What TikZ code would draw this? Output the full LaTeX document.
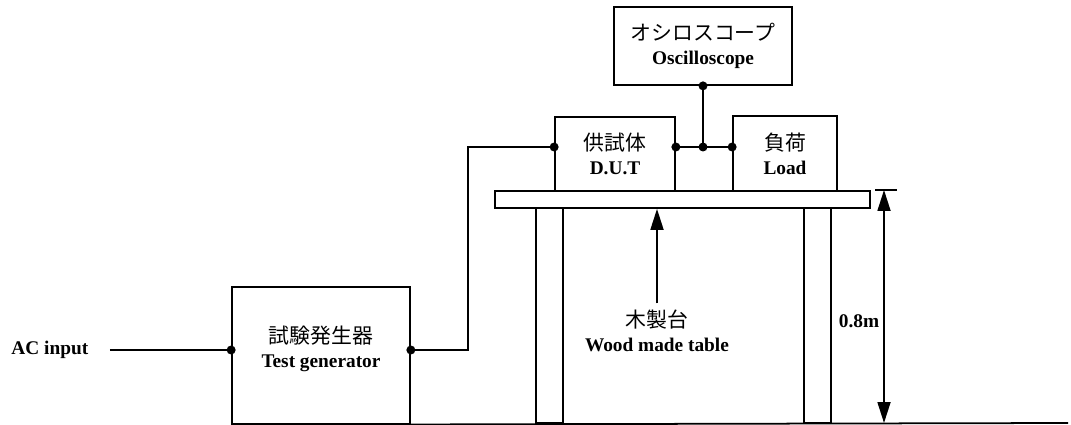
\documentclass[tikz,border=0pt]{standalone}
\usepackage{fontspec}
\setmainfont{Liberation Serif}
\newfontfamily\jp[Scale=1.08]{Noto Sans CJK JP}
\usetikzlibrary{arrows.meta,positioning,calc}
\tikzset{>={Triangle[length=0.42cm,width=0.26cm]}}
\newcommand{\JP}[1]{{\jp\mdseries #1}}

\begin{document}
\begin{tikzpicture}[x=0.02cm,y=-0.02cm,line width=1pt,
    font=\bfseries\fontsize{11}{13.5}\selectfont,
    box/.style={draw,rectangle,align=center,inner sep=0pt},
    dot/.style={circle,fill,inner sep=0pt,minimum size=0.18cm}]
  \useasboundingbox (0,0) rectangle (1071,425);
  % instruments
  \node[box,minimum width=3.56cm,minimum height=2.74cm] at (321,355.5) (gen) {};
  \node[align=center] at (321,349) (gentext) {\JP{試験発生器}\\Test generator};
  \node[box,minimum width=2.4cm,minimum height=1.48cm] at (615,154) (dut) {\JP{供試体}\\D.U.T};
  \node[box,minimum width=2.08cm,minimum height=1.5cm] at (785,153.5) (load) {\JP{負荷}\\Load};
  \node[box,minimum width=3.56cm,minimum height=1.56cm] at (703,46) (osc) {\JP{オシロスコープ}\\Oscilloscope};
  \node[anchor=east] at (95,350) (ac) {AC input};
  \coordinate (bus) at (703,147);
  % table
  \node[box,minimum width=7.5cm,minimum height=0.34cm] at (682.5,199.5) (table) {};
  \draw (536,208) rectangle (563,423);
  \draw (804,208) rectangle (831,423);
  \draw (gen.south west) -- (1068,423) coordinate (floor);
  \node[align=center] at (657,331) (tlabel) {\JP{木製台}\\Wood made table};
  \draw[->] (tlabel.north) -- (table.south -| tlabel.north);
  % height
  \draw (875,190) coordinate (top) -- (897,190);
  \node at (859,321) (height) {0.8m};
  \draw[<->] (884,190) -- (884,423);
  % wiring
  \draw ([xshift=0.3cm]ac.east) -- (gen.west |- ac.east);
  \draw (gen.east |- ac.east) -- ++(57,0) |- (dut.west |- bus);
  \draw (dut.east |- bus) -- (load.west |- bus);
  \draw (osc.south) -- (bus);
  \foreach \p in {gen.west |- ac.east, gen.east |- ac.east, dut.west |- bus,
                  dut.east |- bus, bus, load.west |- bus, osc.south}
    \node[dot] at (\p) {};
\end{tikzpicture}
\end{document}
